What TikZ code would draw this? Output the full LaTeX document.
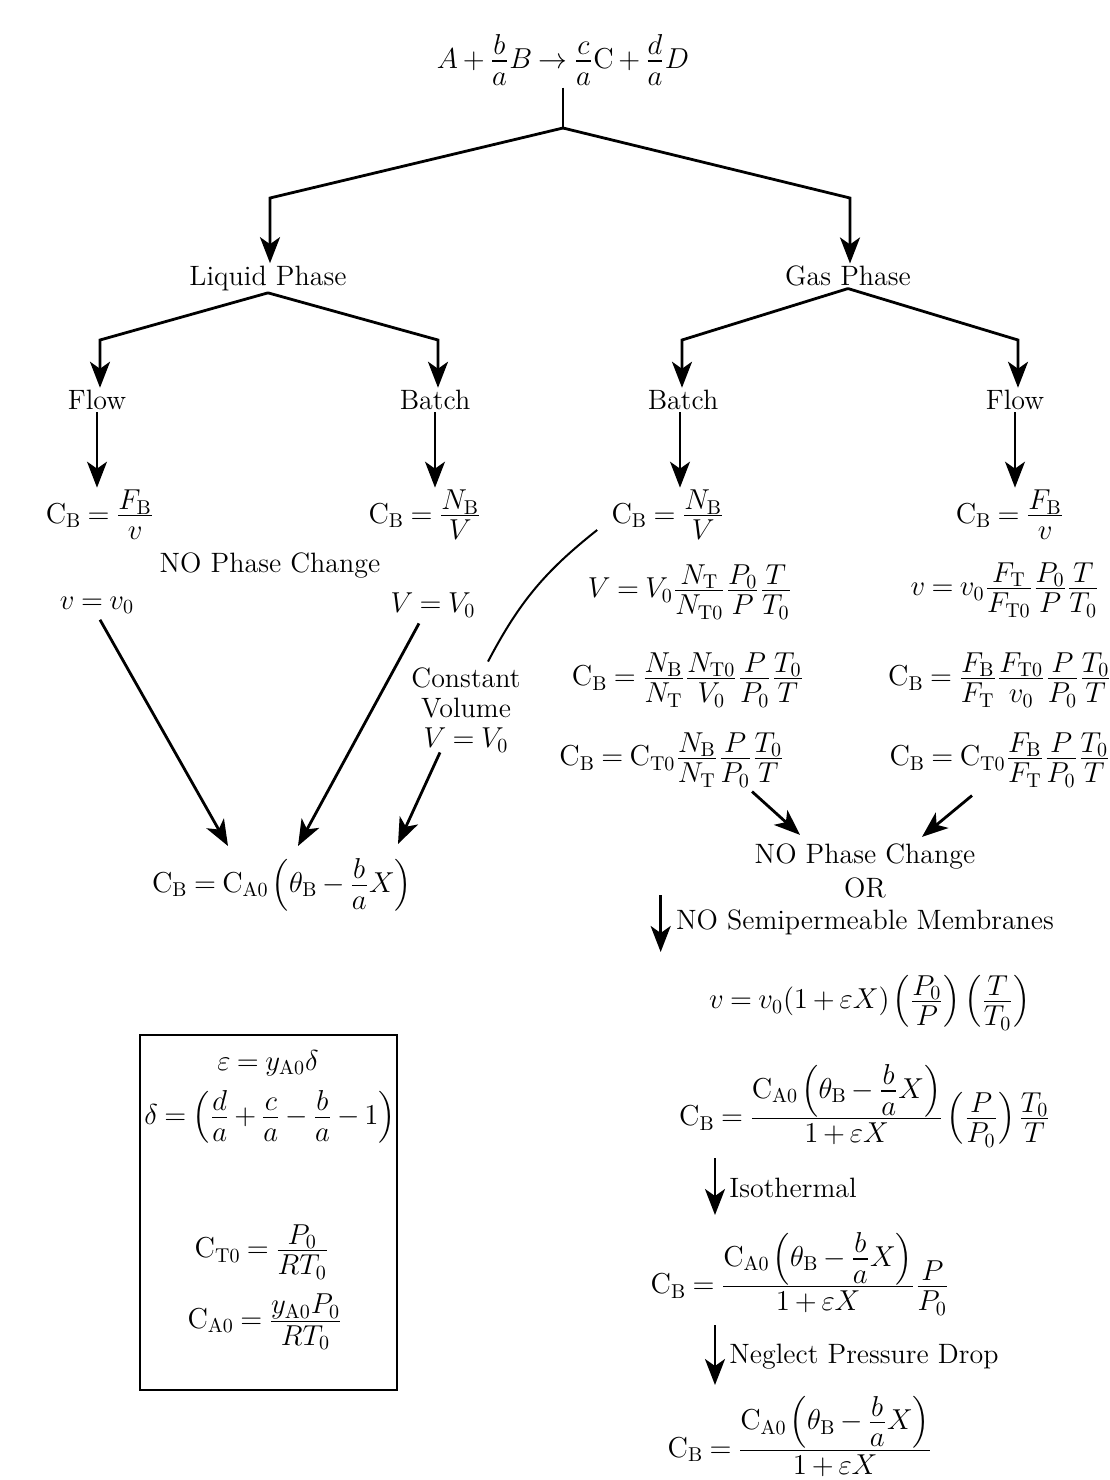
\documentclass[tikz,border=0pt]{standalone}
\usepackage{amsmath}
\usetikzlibrary{arrows.meta}
\newcommand\myCB{\mathrm{C}_{\mathrm{B}}}
\newcommand\myCA{\mathrm{C}_{\mathrm{A0}}}
\newcommand\myCT{\mathrm{C}_{\mathrm{T0}}}
\newcommand\fr[2]{{\textstyle\frac{\displaystyle\rule[-2.2pt]{0pt}{1pt}#1}{\displaystyle\rule{0pt}{11.2pt}#2}}}
\newcommand\myth{\left(\theta_{\mathrm{B}}-\fr{b}{a}X\right)}
\newcommand\tightmath{\medmuskip=3mu\thickmuskip=4mu\thinmuskip=2mu\nulldelimiterspace=1.2pt}
\begin{document}
\begin{tikzpicture}[x=0.5pt,y=-0.5pt,
  every node/.style={font=\fontsize{14}{16}\selectfont\tightmath, inner sep=1pt},
  ln/.style={line width=1.4pt},
  curve/.style={line width=1pt},
  arr/.style={line width=1.4pt,-{Stealth[length=13pt,width=10pt,inset=3.5pt]}},
  arrv/.style={line width=0.9pt,-{Stealth[length=13pt,width=10pt,inset=3.5pt]}},
  boxst/.style={draw, line width=1.3pt, minimum width=128.5pt, minimum height=177.5pt, inner sep=0pt}
]
\fill[white] (0,0) rectangle (1110,1480);
\useasboundingbox (0,0) rectangle (1110,1480);

% top
\node (title) at (563,60) {$A+\fr{b}{a}B\rightarrow\fr{c}{a}\mathrm{C}+\fr{d}{a}D$};
\node (liq) at (268,278) {Liquid Phase};
\node (gas) at (848,276) {Gas Phase};
\node (lflow) at (97,400) {Flow};
\node (lbatch) at (435,400) {Batch};
\node (gbatch) at (683,400) {Batch};
\node (gflow) at (1015,400) {Flow};

% level 3
\node (lcf) at (100,515) {$\myCB=\fr{F_{\mathrm{B}}}{v}$};
\node (lcb) at (425,515) {$\myCB=\fr{N_{\mathrm{B}}}{V}$};
\node (gcb) at (668,515) {$\myCB=\fr{N_{\mathrm{B}}}{V}$};
\node (gcf) at (1010,515) {$\myCB=\fr{F_{\mathrm{B}}}{v}$};
\node (npc1) at (270,566) {NO Phase Change};
\node (vv) at (97,605) {$v=v_0$};
\node (VV) at (433,605) {$V=V_0$};
\node[align=center, font=\fontsize{14}{15}\selectfont\tightmath] (cv) at (466,710) {Constant\\Volume\\$V=V_0$};
\node (cba) at (282,885) {$\myCB=\myCA\myth$};

% gas batch
\node (gb1) at (690,592) {$V=V_0\fr{N_{\mathrm{T}}}{N_{\mathrm{T0}}}\fr{P_0}{P}\fr{T}{T_0}$};
\node (gb2) at (688,680) {$\myCB=\fr{N_{\mathrm{B}}}{N_{\mathrm{T}}}\fr{N_{\mathrm{T0}}}{V_0}\fr{P}{P_0}\fr{T_0}{T}$};
\node (gb3) at (672,760) {$\myCB=\myCT\fr{N_{\mathrm{B}}}{N_{\mathrm{T}}}\fr{P}{P_0}\fr{T_0}{T}$};
% gas flow
\node (gf1) at (1005,590) {$v=v_0\fr{F_{\mathrm{T}}}{F_{\mathrm{T0}}}\fr{P_0}{P}\fr{T}{T_0}$};
\node (gf2) at (1000,680) {$\myCB=\fr{F_{\mathrm{B}}}{F_{\mathrm{T}}}\fr{F_{\mathrm{T0}}}{v_0}\fr{P}{P_0}\fr{T_0}{T}$};
\node (gf3) at (1000,760) {$\myCB=\myCT\fr{F_{\mathrm{B}}}{F_{\mathrm{T}}}\fr{P}{P_0}\fr{T_0}{T}$};

% gas lower chain
\node (np2) at (865,856) {NO Phase Change};
\node (or) at (865,888) {OR};
\node (nsm) at (865,922) {NO Semipermeable Membranes};
\node (veq) at (870,1003) {$v=v_0(1+\varepsilon X)\left(\fr{P_0}{P}\right)\left(\fr{T}{T_0}\right)$};
\node (cb2) at (865,1106) {$\myCB=\fr{\myCA\myth}{1+\varepsilon X}\left(\fr{P}{P_0}\right)\fr{T_0}{T}$};
\node[anchor=west] (iso) at (727,1188) {Isothermal};
\node (cb3) at (800,1274) {$\myCB=\fr{\myCA\myth}{1+\varepsilon X}\fr{P}{P_0}$};
\node[anchor=west] (npd) at (727,1357) {Neglect Pressure Drop};
\node[anchor=south] (cb4) at (800,1479) {$\myCB=\fr{\myCA\myth}{1+\varepsilon X}$};

% box
\node[boxst] (box) at (268.5,1212.5) {};
\node (e1) at (268,1063) {$\varepsilon=y_{\mathrm{A0}}\delta$};
\node (e2) at (270,1117) {$\delta=\left(\fr{d}{a}+\fr{c}{a}-\fr{b}{a}-1\right)$};
\node (e3) at (262,1252) {$\myCT=\fr{P_0}{RT_0}$};
\node (e4) at (265,1322) {$\myCA=\fr{y_{\mathrm{A0}}P_0}{RT_0}$};

% connectors: top tree
\coordinate (j) at (563,128);
\coordinate (lc) at (270,198);
\coordinate (gc) at (850,198);
\draw[ln] (title.south) -- (j);
\draw[arr] (j) -- (lc) -- (lc |- liq.north);
\draw[arr] (j) -- (gc) -- (gc |- gas.north);

\coordinate (lfc) at (100,340);
\coordinate (lbc) at (438,340);
\coordinate (gbc) at (682,340);
\coordinate (gfc) at (1018,340);
\draw[arr] (liq.south) -- (lfc) -- (lfc |- lflow.north);
\draw[arr] (liq.south) -- (lbc) -- (lbc |- lbatch.north);
\draw[arr] (gas.south) -- (gbc) -- (gbc |- gbatch.north);
\draw[arr] (gas.south) -- (gfc) -- (gfc |- gflow.north);

\draw[arrv] (lflow.south) -- (lflow.south |- lcf.north);
\draw[arrv] (lbatch.south) -- (lbatch.south |- lcb.north);
\draw[arrv] ([xshift=-1.5pt]gbatch.south) -- ([xshift=-1.5pt]gbatch.south |- gcb.north);
\draw[arrv] (gflow.south) -- (gflow.south |- gcf.north);

% converging arrows to liquid result
\coordinate (t1) at (228,846);
\coordinate (t2) at (298,846);
\coordinate (t3) at (398,844);
\draw[arr] ([shift={(3,4)}]vv.south) -- (t1);
\draw[arr] ([shift={(-14,4)}]VV.south) -- (t2);
\draw[curve] ([shift={(-12,15)}]gcb.west) to[bend right=12] ([shift={(22,-4)}]cv.north);
\draw[arr] ([shift={(-26,-2)}]cv.south) -- (t3);

% gas converging
\draw[arr] ([shift={(80,2)}]gb3.south) -- ([shift={(-65,-6)}]np2.north);
\draw[arr] ([shift={(-28,6)}]gf3.south) -- ([shift={(57,-4)}]np2.north);

% side arrows
\draw[arr] ([shift={(-13,-27)}]nsm.west) -- ([shift={(-13,30)}]nsm.west);
\draw[arr] ([shift={(-12,-30)}]iso.west) -- ([shift={(-12,27)}]iso.west);
\draw[arr] ([shift={(-12,-32)}]npd.west) -- ([shift={(-12,28)}]npd.west);
\end{tikzpicture}
\end{document}
